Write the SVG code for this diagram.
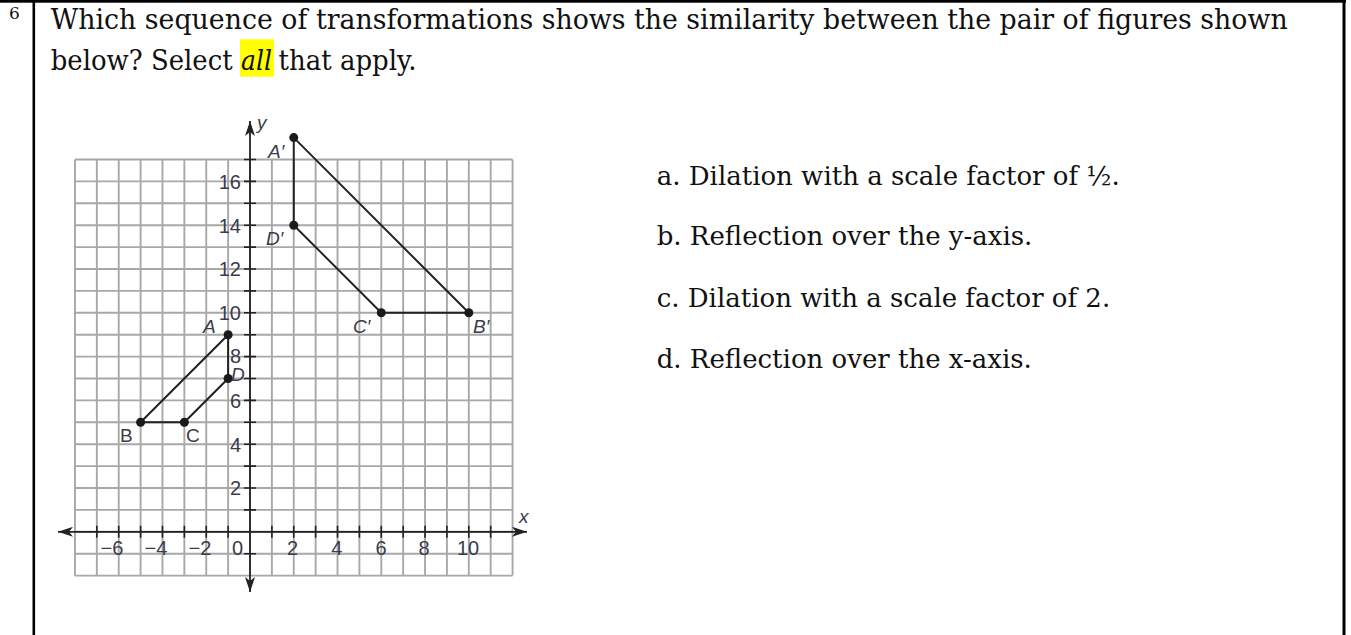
<svg xmlns="http://www.w3.org/2000/svg" width="1351" height="635" viewBox="0 0 1351 635">
<defs>
<style>
.t{font-family:"DejaVu Serif","Liberation Serif",serif;fill:#111}
.grid{stroke:#a8a8a8;stroke-width:1.9;fill:none}
.axis{stroke:#222;stroke-width:1.8;fill:none}
.tick{stroke:#222;stroke-width:1.6;fill:none}
.fig{stroke:#222;stroke-width:2;fill:none;stroke-linejoin:round}
.pt{fill:#1a1a1a}
.num{font-family:"Liberation Sans",Arial,sans-serif;font-size:20px;fill:#3b3b4a}
.lbl{font-family:"Liberation Sans",Arial,sans-serif;font-size:19px;fill:#3b3b4a}
.it{font-style:italic}
</style>
<marker id="arr" viewBox="0 0 15 10" refX="15" refY="5" markerWidth="15" markerHeight="10" markerUnits="userSpaceOnUse" orient="auto-start-reverse">
<path d="M0,0 L15,5 L0,10 L4,5 z" fill="#222"/>
</marker>
</defs>
<rect width="1351" height="635" fill="#fff"/>
<g id="frame" fill="#000">
<rect x="0" y="0" width="1346" height="2.7"/>
<rect x="32.5" y="0" width="2.6" height="635"/>
<rect x="1342.5" y="0" width="3" height="635"/>
</g>
<g id="question">
<text class="t" x="9" y="19" font-size="17">6</text>
<text class="t" x="50.7" y="29.3" font-size="27" textLength="1237" lengthAdjust="spacingAndGlyphs">Which sequence of transformations shows the similarity between the pair of figures shown</text>
<text class="t" x="50.7" y="70" font-size="27" textLength="182" lengthAdjust="spacingAndGlyphs">below? Select</text>
<rect x="240" y="39.3" width="34" height="37.4" fill="#ffff00"/>
<text class="t" x="241" y="70" font-size="27" font-style="italic" textLength="31" lengthAdjust="spacingAndGlyphs">all</text>
<text class="t" x="278.5" y="70" font-size="27" textLength="138" lengthAdjust="spacingAndGlyphs">that apply.</text>
</g>
<g id="options">
<text class="t" x="656.7" y="185" font-size="26">a. Dilation with a scale factor of ½.</text>
<text class="t" x="656.7" y="245" font-size="26">b. Reflection over the y-axis.</text>
<text class="t" x="656.7" y="306.7" font-size="26">c. Dilation with a scale factor of 2.</text>
<text class="t" x="656.7" y="368.3" font-size="26">d. Reflection over the x-axis.</text>
</g>
<g id="grid">
<path class="grid" d="M74.96 159.5V575.6M96.84 159.5V575.6M118.72 159.5V575.6M140.6 159.5V575.6M162.48 159.5V575.6M184.36 159.5V575.6M206.24 159.5V575.6M228.12 159.5V575.6M271.88 159.5V575.6M293.76 159.5V575.6M315.64 159.5V575.6M337.52 159.5V575.6M359.4 159.5V575.6M381.28 159.5V575.6M403.16 159.5V575.6M425.04 159.5V575.6M446.92 159.5V575.6M468.8 159.5V575.6M490.68 159.5V575.6M512.56 159.5V575.6M250 159.5V575.6"/>
<path class="grid" d="M74.96 575.6H512.56M74.96 553.7H512.56M74.96 509.9H512.56M74.96 488H512.56M74.96 466.1H512.56M74.96 444.2H512.56M74.96 422.3H512.56M74.96 400.4H512.56M74.96 378.5H512.56M74.96 356.6H512.56M74.96 334.7H512.56M74.96 312.8H512.56M74.96 290.9H512.56M74.96 269H512.56M74.96 247.1H512.56M74.96 225.2H512.56M74.96 203.3H512.56M74.96 181.4H512.56M74.96 159.5H512.56M74.96 531.8H512.56"/>
</g>
<g id="axes">
<path class="axis" d="M58 531.8H527" marker-start="url(#arr)" marker-end="url(#arr)"/>
<path class="axis" d="M250 121V592" marker-start="url(#arr)" marker-end="url(#arr)"/>
<path class="tick" d="M96.84 525.8v12M118.72 525.8v12M140.6 525.8v12M162.48 525.8v12M184.36 525.8v12M206.24 525.8v12M228.12 525.8v12M271.88 525.8v12M293.76 525.8v12M315.64 525.8v12M337.52 525.8v12M359.4 525.8v12M381.28 525.8v12M403.16 525.8v12M425.04 525.8v12M446.92 525.8v12M468.8 525.8v12M490.68 525.8v12"/>
<path class="tick" d="M244 553.7h12M244 509.9h12M244 488h12M244 466.1h12M244 444.2h12M244 422.3h12M244 400.4h12M244 378.5h12M244 356.6h12M244 334.7h12M244 312.8h12M244 290.9h12M244 269h12M244 247.1h12M244 225.2h12M244 203.3h12M244 181.4h12M244 159.5h12"/>
<text class="lbl it" x="257" y="129" font-size="16">y</text>
<text class="lbl it" x="519" y="523" font-size="16">x</text>
</g>
<g id="ticklabels">
<g class="num" text-anchor="end">
<text x="241" y="188.7">16</text>
<text x="241" y="232.5">14</text>
<text x="241" y="276.3">12</text>
<text x="241" y="320.1">10</text>
<text x="241" y="362.5">8</text>
<text x="241" y="407.7">6</text>
<text x="241" y="451.5">4</text>
<text x="241" y="495.3">2</text>
</g>
<g class="num" text-anchor="middle">
<text x="112" y="555">−6</text>
<text x="156" y="555">−4</text>
<text x="200" y="555">−2</text>
<text x="237.5" y="555">0</text>
<text x="292.5" y="555">2</text>
<text x="336.7" y="555">4</text>
<text x="381" y="555">6</text>
<text x="424" y="555">8</text>
<text x="468" y="555">10</text>
</g>
</g>
<g id="figure-ABCD">
<path class="fig" d="M228.12 334.7L140.6 422.3H184.36L228.12 378.5Z"/>
<circle class="pt" cx="228.12" cy="334.7" r="4.5"/>
<circle class="pt" cx="140.6" cy="422.3" r="4.5"/>
<circle class="pt" cx="184.36" cy="422.3" r="4.5"/>
<circle class="pt" cx="228.12" cy="378.5" r="4.5"/>
<text class="lbl it" x="203" y="333">A</text>
<text class="lbl" x="120" y="442">B</text>
<text class="lbl" x="186" y="442">C</text>
<text class="lbl it" x="231" y="381">D</text>
</g>
<g id="figure-ApBpCpDp">
<path class="fig" d="M293.76 137.6L468.8 312.8H381.28L293.76 225.2Z"/>
<circle class="pt" cx="293.76" cy="137.6" r="4.5"/>
<circle class="pt" cx="468.8" cy="312.8" r="4.5"/>
<circle class="pt" cx="381.28" cy="312.8" r="4.5"/>
<circle class="pt" cx="293.76" cy="225.2" r="4.5"/>
<text class="lbl it" x="268" y="158">A′</text>
<text class="lbl it" x="473" y="333">B′</text>
<text class="lbl it" x="353" y="333">C′</text>
<text class="lbl it" x="266" y="245">D′</text>
</g>
</svg>
